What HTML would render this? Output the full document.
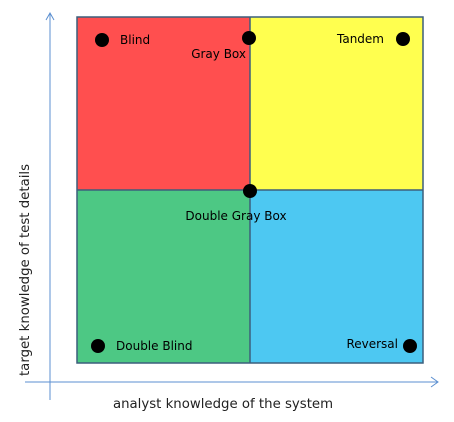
<!DOCTYPE html>
<html><head><style>body{margin:0;background:#fff}</style></head><body>
<svg width="454" height="417" viewBox="0 0 454 417" xmlns="http://www.w3.org/2000/svg" font-family="DejaVu Sans, sans-serif" font-size="12">
<rect x="77" y="17" width="173" height="173" fill="#ff4f4f"/>
<rect x="250" y="17" width="173" height="173" fill="#ffff4f"/>
<rect x="77" y="190" width="173" height="173" fill="#4dc884"/>
<rect x="250" y="190" width="173" height="173" fill="#4dc8f2"/>
<g stroke="#3c5f7c" stroke-width="1.5" fill="none">
<rect x="77" y="17" width="346" height="346"/>
<line x1="250" y1="17" x2="250" y2="363"/>
<line x1="77" y1="190" x2="423" y2="190"/>
</g>
<g stroke="#5b8fd0" stroke-width="1" fill="none">
<line x1="50" y1="13" x2="50" y2="400"/>
<polyline points="46,20 50,13 54,20"/>
<line x1="25" y1="382" x2="438" y2="382"/>
<polyline points="431,377 438,382 431,387"/>
</g>
<g fill="#000">
<circle cx="102" cy="40" r="7"/><circle cx="249" cy="38" r="7"/><circle cx="403" cy="39" r="7"/>
<circle cx="250" cy="191" r="7"/><circle cx="98" cy="346" r="7"/><circle cx="410" cy="346" r="7"/>
<text x="120" y="44">Blind</text>
<text x="246" y="58" text-anchor="end">Gray Box</text>
<text x="384" y="43" text-anchor="end">Tandem</text>
<text x="236" y="220" text-anchor="middle">Double Gray Box</text>
<text x="116" y="350">Double Blind</text>
<text x="398" y="348" text-anchor="end">Reversal</text>
<text x="223" y="408" text-anchor="middle" fill="#222" font-size="13.3">analyst knowledge of the system</text>
<text transform="translate(29,270) rotate(-90)" text-anchor="middle" fill="#222" font-size="13.3">target knowledge of test details</text>
</g>
</svg>
</body></html>
